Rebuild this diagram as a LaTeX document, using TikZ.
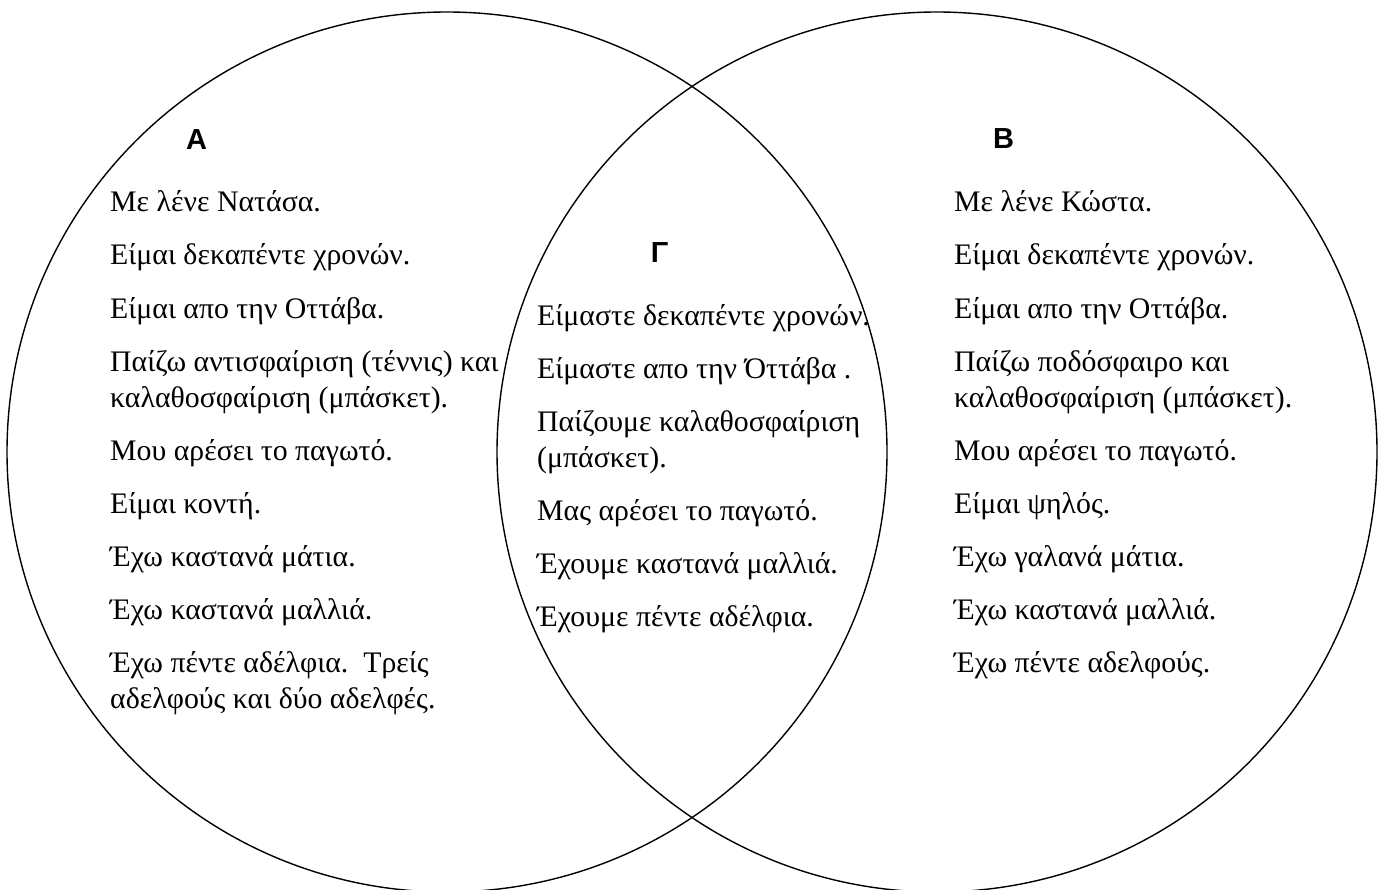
\documentclass[tikz,border=0pt]{standalone}
\usepackage{fontspec}
\setmainfont{Liberation Serif}
\newfontfamily\lblfont{Liberation Sans}
\begin{document}
\begin{tikzpicture}[x=1pt,y=-1pt,
  ring/.style={circle, draw=black, line width=1.4pt, minimum size=880pt, inner sep=0pt, outer sep=0pt},
  txt/.style={anchor=base west, inner sep=0pt, font=\fontsize{29.8}{36}\selectfont},
  lbl/.style={anchor=base, inner sep=0pt, font=\lblfont\bfseries\fontsize{29}{32}\selectfont}]
\useasboundingbox (0,0) rectangle (1380,890);
\clip (0,0) rectangle (1380,890);
\node[ring] (setA) at (447,452) {};
\node[ring] (setB) at (937,452) {};
% labels
\node[lbl] (labA) at (196.5,150) {A};
\node[lbl] (labB) at (1003.5,149) {B};
\node[lbl] (labG) at (659.5,263) {Γ};
% left column
\node[txt] (a1) at (110,212) {Με λένε Νατάσα.};
\node[txt] (a2) at (110,265) {Είμαι δεκαπέντε χρονών.};
\node[txt] (a3) at (110,318) {Είμαι απο την Οττάβα.};
\node[txt] (a4) at (110,371) {Παίζω αντισφαίριση (τέννις) και};
\node[txt] (a4b) at (110,407) {καλαθοσφαίριση (μπάσκετ).};
\node[txt] (a5) at (110,460) {Μου αρέσει το παγωτό.};
\node[txt] (a6) at (110,513) {Είμαι κοντή.};
\node[txt] (a7) at (110,566) {Έχω καστανά μάτια.};
\node[txt] (a8) at (110,619) {Έχω καστανά μαλλιά.};
\node[txt] (a9) at (110,672) {Έχω πέντε αδέλφια.\ \ Τρείς};
\node[txt] (a9b) at (110,708) {αδελφούς και δύο αδελφές.};
% middle column
\node[txt] (g1) at (537,325) {Είμαστε δεκαπέντε χρονών.};
\node[txt] (g2) at (537,378) {Είμαστε απο την Όττάβα .};
\node[txt] (g3) at (537,431) {Παίζουμε καλαθοσφαίριση};
\node[txt] (g3b) at (537,467) {(μπάσκετ).};
\node[txt] (g4) at (537,520) {Μας αρέσει το παγωτό.};
\node[txt] (g5) at (537,573) {Έχουμε καστανά μαλλιά.};
\node[txt] (g6) at (537,626) {Έχουμε πέντε αδέλφια.};
% right column
\node[txt] (b1) at (954,212) {Με λένε Κώστα.};
\node[txt] (b2) at (954,265) {Είμαι δεκαπέντε χρονών.};
\node[txt] (b3) at (954,318) {Είμαι απο την Οττάβα.};
\node[txt] (b4) at (954,371) {Παίζω ποδόσφαιρο και};
\node[txt] (b4b) at (954,407) {καλαθοσφαίριση (μπάσκετ).};
\node[txt] (b5) at (954,460) {Μου αρέσει το παγωτό.};
\node[txt] (b6) at (954,513) {Είμαι ψηλός.};
\node[txt] (b7) at (954,566) {Έχω γαλανά μάτια.};
\node[txt] (b8) at (954,619) {Έχω καστανά μαλλιά.};
\node[txt] (b9) at (954,672) {Έχω πέντε αδελφούς.};
\end{tikzpicture}
\end{document}
